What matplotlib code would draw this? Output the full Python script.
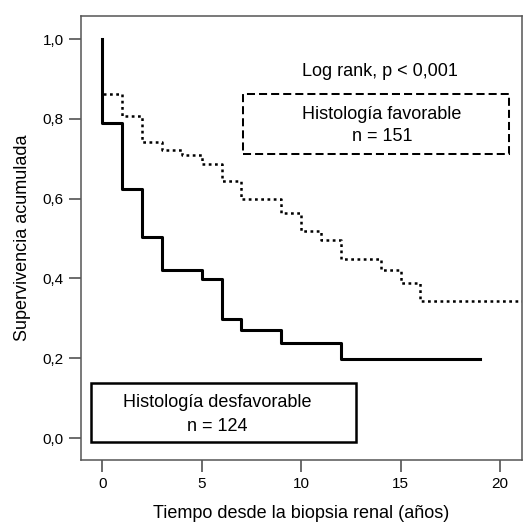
import matplotlib
matplotlib.use('Agg')
import matplotlib.pyplot as plt
from matplotlib.patches import Rectangle
from matplotlib.ticker import FuncFormatter

plt.rcParams['font.family'] = ['Liberation Sans', 'DejaVu Sans']

# Kaplan-Meier steps (years, cumulative survival)
fav_time = [0, 0, 1, 2, 3, 4, 5, 6, 7, 9, 10, 11, 12, 14, 15, 16, 23]
fav_surv = [1.0, 0.862, 0.808, 0.743, 0.723, 0.709, 0.686, 0.645, 0.600,
            0.563, 0.519, 0.496, 0.450, 0.421, 0.388, 0.344, 0.344]

unf_time = [0, 0, 1, 2, 3, 5, 6, 7, 9, 12, 19]
unf_surv = [1.0, 0.79, 0.625, 0.505, 0.42, 0.398, 0.298, 0.27, 0.237, 0.198, 0.198]

x_ticks = [0, 5, 10, 15, 20]
y_ticks = [0.0, 0.2, 0.4, 0.6, 0.8, 1.0]

fig = plt.figure(figsize=(5.23, 5.23), dpi=100)
ax = fig.add_axes([0.155, 0.1205, 0.843, 0.849])

ax.plot(fav_time, fav_surv, drawstyle='steps-post', color='black',
        lw=1.8, linestyle=(0, (1.1, 1.4)))
ax.plot(unf_time, unf_surv, drawstyle='steps-post', color='black', lw=2.2)

ax.set_xlim(-1.06, 21.1)
ax.set_ylim(-0.055, 1.058)
ax.set_xticks(x_ticks)
ax.set_yticks(y_ticks)
ax.yaxis.set_major_formatter(FuncFormatter(lambda v, p: f"{v:.1f}".replace('.', ',')))

for s in ax.spines.values():
    s.set_color('#555555')
    s.set_linewidth(1.1)
ax.tick_params(length=8.6, width=1.1, color='#444444', labelsize=11, pad=4)

ax.set_xlabel('Tiempo desde la biopsia renal (años)', fontsize=13, labelpad=10)
ax.set_ylabel('Supervivencia acumulada', fontsize=13, labelpad=8)

# legend-like annotation boxes
ax.add_patch(Rectangle((7.09, 0.713), 13.36, 0.150, fill=False, lw=1.45,
                       linestyle=(0, (4, 2)), edgecolor='black'))
ax.add_patch(Rectangle((-0.55, -0.010), 13.31, 0.148, fill=False, lw=1.8,
                       edgecolor='black'))

ax.text(13.97, 0.920, 'Log rank, p < 0,001', ha='center', va='center', fontsize=13)
ax.text(14.06, 0.810, 'Histología favorable', ha='center', va='center', fontsize=13)
ax.text(14.06, 0.755, 'n = 151', ha='center', va='center', fontsize=13)
ax.text(5.76, 0.088, 'Histología desfavorable', ha='center', va='center', fontsize=13)
ax.text(5.76, 0.030, 'n = 124', ha='center', va='center', fontsize=13)

fig.savefig('out.png', dpi=100)
